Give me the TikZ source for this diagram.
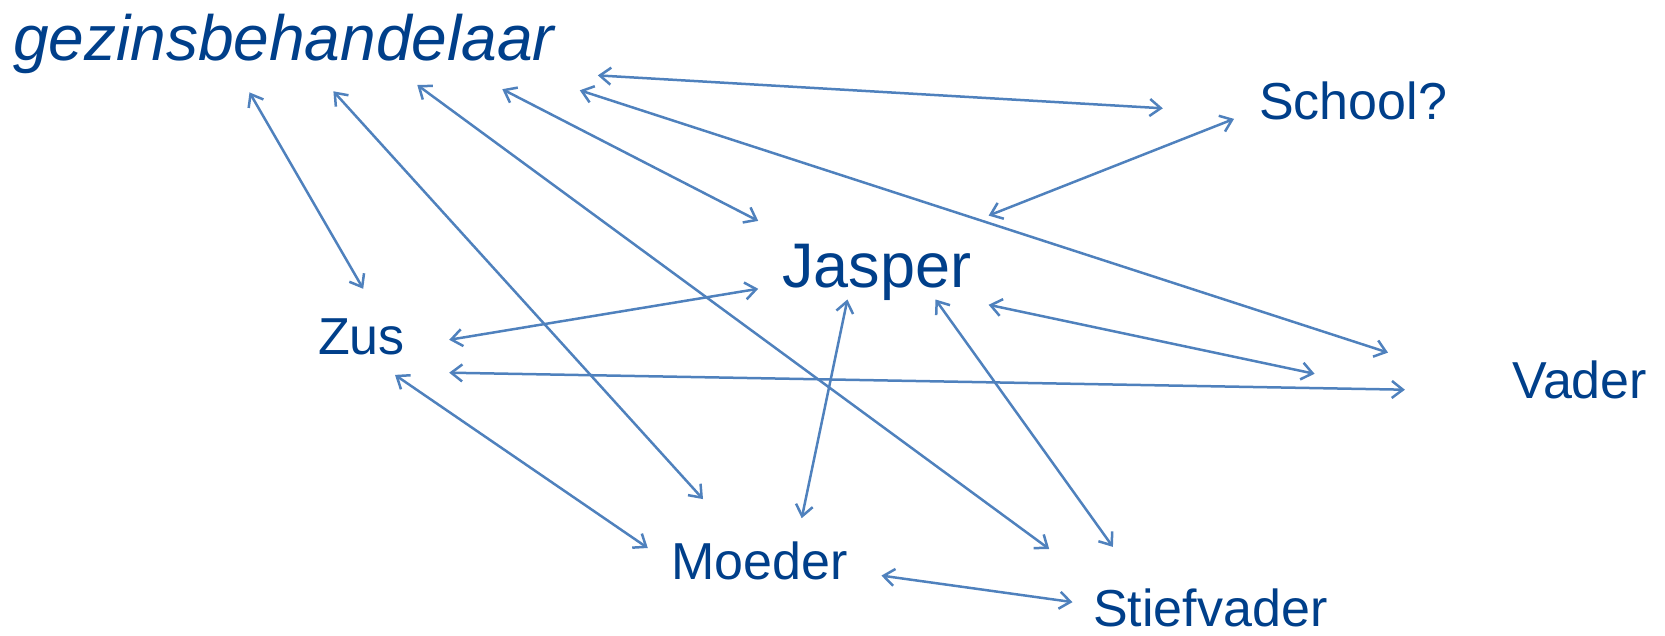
\documentclass[tikz,border=0pt]{standalone}
\usepackage{fontspec}
\setmainfont{Liberation Sans}
\usetikzlibrary{arrows.meta}
\definecolor{txtblue}{RGB}{0,63,138}
\definecolor{linkblue}{RGB}{79,129,189}
\tikzset{
  person/.style={anchor=base west, inner sep=0pt, text=txtblue,
    font=\fontsize{52}{60}\selectfont},
  link/.style={draw=linkblue, line width=2.5pt,
    {Straight Barb[length=11pt,width=17pt]}-{Straight Barb[length=11pt,width=17pt]}}
}
\begin{document}
\begin{tikzpicture}[x=1pt,y=-1pt]
\useasboundingbox (0,0) rectangle (1665,636);

% people
\node[person, font=\fontsize{64}{72}\selectfont\itshape] (geh) at (13,61) {gezinsbehandelaar};
\node[person] (school) at (1259,120) {School?};
\node[person, font=\fontsize{63}{72}\selectfont] (jasper) at (782,288) {Jasper};
\node[person] (zus) at (318,354) {Zus};
\node[person] (vader) at (1512,398) {Vader};
\node[person] (moeder) at (671,579) {Moeder};
\node[person] (stief) at (1093,626) {Stiefvader};

% arrow ends
\coordinate (gZa) at (249.5,92.4);  \coordinate (gZb) at (363.2,288.8);
\coordinate (gMa) at (333.4,91.3);  \coordinate (gMb) at (703.0,499.1);
\coordinate (gSa) at (417.3,85.0);  \coordinate (gSb) at (1049.2,549.0);
\coordinate (gJa) at (502.3,89.2);  \coordinate (gJb) at (758.2,220.9);
\coordinate (gVa) at (579.8,90.3);  \coordinate (gVb) at (1388.0,352.6);
\coordinate (gCa) at (597.8,75.4);  \coordinate (gCb) at (1162.8,108.3);
\coordinate (cJa) at (1234.0,118.9); \coordinate (cJb) at (988.6,215.6);
\coordinate (zJa) at (449.2,339.8); \coordinate (zJb) at (758.2,288.8);
\coordinate (zVa) at (449.2,372.7); \coordinate (zVb) at (1404.9,389.7);
\coordinate (zMa) at (395.0,374.9); \coordinate (zMb) at (647.8,548.0);
\coordinate (jMa) at (847.4,299.5); \coordinate (jMb) at (801.7,518.2);
\coordinate (jSa) at (935.5,299.5); \coordinate (jSb) at (1112.9,546.9);
\coordinate (jVa) at (988.6,304.8); \coordinate (jVb) at (1314.6,373.8);
\coordinate (mSa) at (881.4,575.6); \coordinate (mSb) at (1072.5,602.1);

% relations
\draw[link] (gZa) -- (gZb);
\draw[link] (gMa) -- (gMb);
\draw[link] (gSa) -- (gSb);
\draw[link] (gJa) -- (gJb);
\draw[link] (gVa) -- (gVb);
\draw[link] (gCa) -- (gCb);
\draw[link] (cJa) -- (cJb);
\draw[link] (zJa) -- (zJb);
\draw[link] (zVa) -- (zVb);
\draw[link] (zMa) -- (zMb);
\draw[link] (jMa) -- (jMb);
\draw[link] (jSa) -- (jSb);
\draw[link] (jVa) -- (jVb);
\draw[link] (mSa) -- (mSb);
\end{tikzpicture}
\end{document}
